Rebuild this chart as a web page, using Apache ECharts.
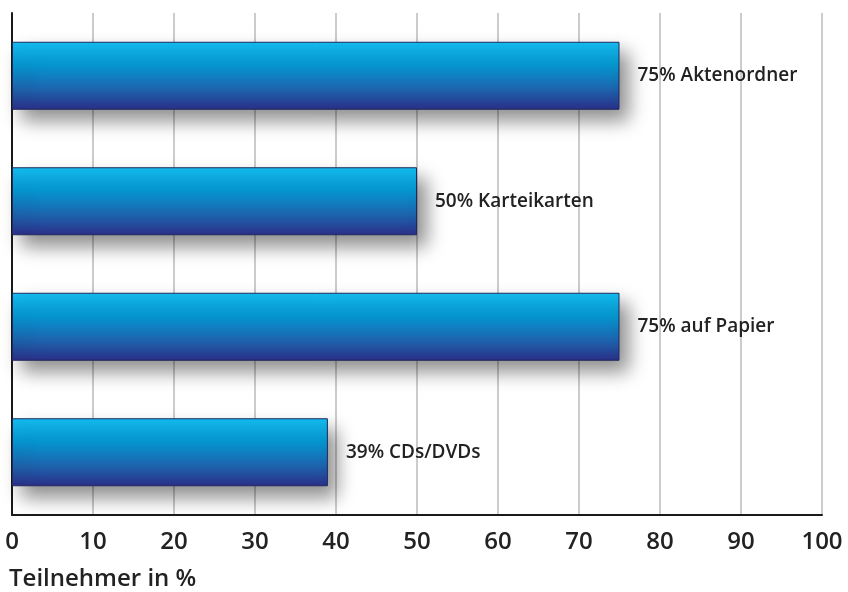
<!DOCTYPE html>
<html>
<head>
<meta charset="utf-8">
<script src="https://cdn.jsdelivr.net/npm/echarts@6/dist/echarts.min.js"></script>
<style>
  html, body { margin: 0; padding: 0; background: #fff; }
  #chart { width: 848px; height: 592px; }
</style>
</head>
<body>
<div id="chart"></div>
<script>
// Datenträger / Ablage - Teilnehmer in %
var categories = ['Aktenordner', 'Karteikarten', 'auf Papier', 'CDs/DVDs'];
var values = [75, 50, 75, 39];
var xTicks = [0, 10, 20, 30, 40, 50, 60, 70, 80, 90, 100];

var fontName = '"Open Sans", "Noto Sans", sans-serif';

var chart = echarts.init(document.getElementById('chart'));

var barGradient = new echarts.graphic.LinearGradient(0, 0, 0, 1, [
  { offset: 0, color: '#14bdf0' },
  { offset: 0.35, color: '#0596d0' },
  { offset: 0.7, color: '#1d63ad' },
  { offset: 1, color: '#2b2f88' }
]);

chart.setOption({
  animation: false,
  title: {
    text: 'Teilnehmer in %',
    left: 4,
    top: 562,
    textStyle: {
      fontFamily: fontName,
      fontSize: 24,
      fontWeight: 600,
      color: '#222'
    }
  },
  grid: {
    left: 12,
    right: 26,
    top: 13,
    bottom: 77
  },
  xAxis: {
    type: 'value',
    min: xTicks[0],
    max: xTicks[xTicks.length - 1],
    interval: 10,
    axisLine: { show: true, lineStyle: { color: '#1a1a1a', width: 2 } },
    axisTick: { show: false },
    axisLabel: {
      margin: 15,
      fontFamily: fontName,
      fontSize: 24,
      fontWeight: 600,
      color: '#222'
    },
    splitLine: { show: true, lineStyle: { color: '#cccccc', width: 2 } }
  },
  yAxis: {
    type: 'category',
    inverse: true,
    data: categories,
    axisLine: { show: true, lineStyle: { color: '#1a1a1a', width: 2 } },
    axisTick: { show: false },
    axisLabel: { show: false }
  },
  series: [{
    type: 'bar',
    data: values,
    barWidth: 68,
    itemStyle: {
      color: barGradient,
      borderColor: '#1f2a5e',
      borderWidth: 1,
      shadowBlur: 18,
      shadowColor: 'rgba(0,0,0,0.45)',
      shadowOffsetX: 9,
      shadowOffsetY: 11
    },
    label: {
      show: true,
      position: 'right',
      distance: 18,
      formatter: function (p) { return p.value + '% ' + p.name; },
      fontFamily: fontName,
      fontSize: 19,
      fontWeight: 600,
      color: '#222'
    }
  }]
});
</script>
</body>
</html>
